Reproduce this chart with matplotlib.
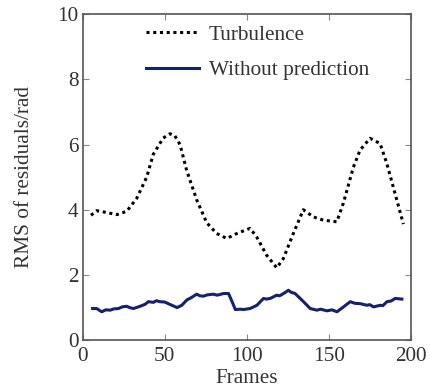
import matplotlib
matplotlib.use("Agg")
import matplotlib.pyplot as plt

turb_x = [5, 8.5, 14, 20.7, 26.8, 32.9, 39, 43, 49.1, 53.2, 56, 59.3, 63.4, 69.5, 75.6,
          81.7, 87.8, 93.9, 102, 106, 112.2, 118.3, 122.3, 128.4, 134.5, 140.6, 146.7,
          154.9, 158.9, 165, 169.1, 175.2, 181.3, 185.4, 191.5, 195.5]
turb_y = [3.83, 3.97, 3.92, 3.85, 3.95, 4.35, 5.0, 5.7, 6.2, 6.33, 6.28, 6.0, 5.2, 4.3, 3.6,
          3.27, 3.12, 3.27, 3.43, 3.17, 2.6, 2.22, 2.5, 3.27, 4.0, 3.78, 3.68,
          3.63, 4.2, 5.3, 5.83, 6.19, 6.03, 5.42, 4.3, 3.56]

nopred_x = [6, 8.5, 11.6, 14, 16.7, 19, 21.8, 24, 26.8, 28.5, 30.9, 35, 38, 40, 43, 45, 47,
            50, 53, 57.5, 60.4, 63.4, 66, 69.5, 71.5, 73.6, 76, 79.7, 82, 85.8, 88.9, 92, 93,
            96, 98, 102, 106.2, 110.2, 112, 114.3, 118.3, 120, 122.4, 125.4, 127, 129.5,
            134.6, 138.7, 142.8, 145, 148.9, 152, 155, 159, 163.1, 166, 169.2, 173.3, 175,
            177.3, 181.4, 183, 185.5, 188, 190.5, 194.6]
nopred_y = [0.97, 0.97, 0.87, 0.93, 0.92, 0.96, 0.97, 1.02, 1.04, 1.0, 0.97, 1.04, 1.1, 1.18,
            1.16, 1.21, 1.18, 1.17, 1.1, 1.0, 1.07, 1.23, 1.3, 1.41, 1.36, 1.35, 1.39, 1.41,
            1.38, 1.43, 1.43, 1.07, 0.94, 0.95, 0.94, 0.97, 1.07, 1.28, 1.26, 1.28, 1.38,
            1.36, 1.43, 1.53, 1.47, 1.43, 1.18, 0.97, 0.92, 0.95, 0.90, 0.93, 0.87, 1.02,
            1.18, 1.13, 1.12, 1.07, 1.09, 1.02, 1.07, 1.06, 1.18, 1.2, 1.28, 1.26]

labels = ["Turbulence", "Without prediction"]
x_ticks = [0, 50, 100, 150, 200]
y_ticks = [0, 2, 4, 6, 8, 10]

FS = 15.3
plt.rcParams['font.family'] = ['Liberation Serif', 'DejaVu Serif']
fig = plt.figure(figsize=(4.31, 3.91), dpi=100)
ax = fig.add_axes([0.192, 0.130, 0.761, 0.834])

ax.plot(turb_x, turb_y, color='black', linestyle=(0, (1, 1.2)), linewidth=2.2, label=labels[0])
ax.plot(nopred_x, nopred_y, color='#16206e', linestyle='-', linewidth=2.2, label=labels[1])

ax.set_xlim(0, 200)
ax.set_ylim(0, 10)
ax.set_xticks(x_ticks)
ax.set_yticks(y_ticks)
ax.tick_params(direction='in', top=True, right=True, labelsize=FS, length=4,
               color='#888888')
ax.tick_params(axis='y', pad=3)
ax.tick_params(axis='x', pad=5)
for s in ax.spines.values():
    s.set_color('#555555')
    s.set_linewidth(1.2)
ax.set_xlabel('Frames', fontsize=FS, labelpad=2, color='#333333')
ax.set_ylabel('RMS of residuals/rad', fontsize=FS, labelpad=17, color='#333333')
for t in ax.get_xticklabels() + ax.get_yticklabels():
    t.set_color('#333333')

leg = ax.legend(loc='upper left', bbox_to_anchor=(0.135, 1.025), frameon=False,
                fontsize=FS, handlelength=2.5, labelspacing=0.72, handletextpad=0.45)
for t in leg.get_texts():
    t.set_color('#333333')

fig.savefig('out.png', dpi=100)
